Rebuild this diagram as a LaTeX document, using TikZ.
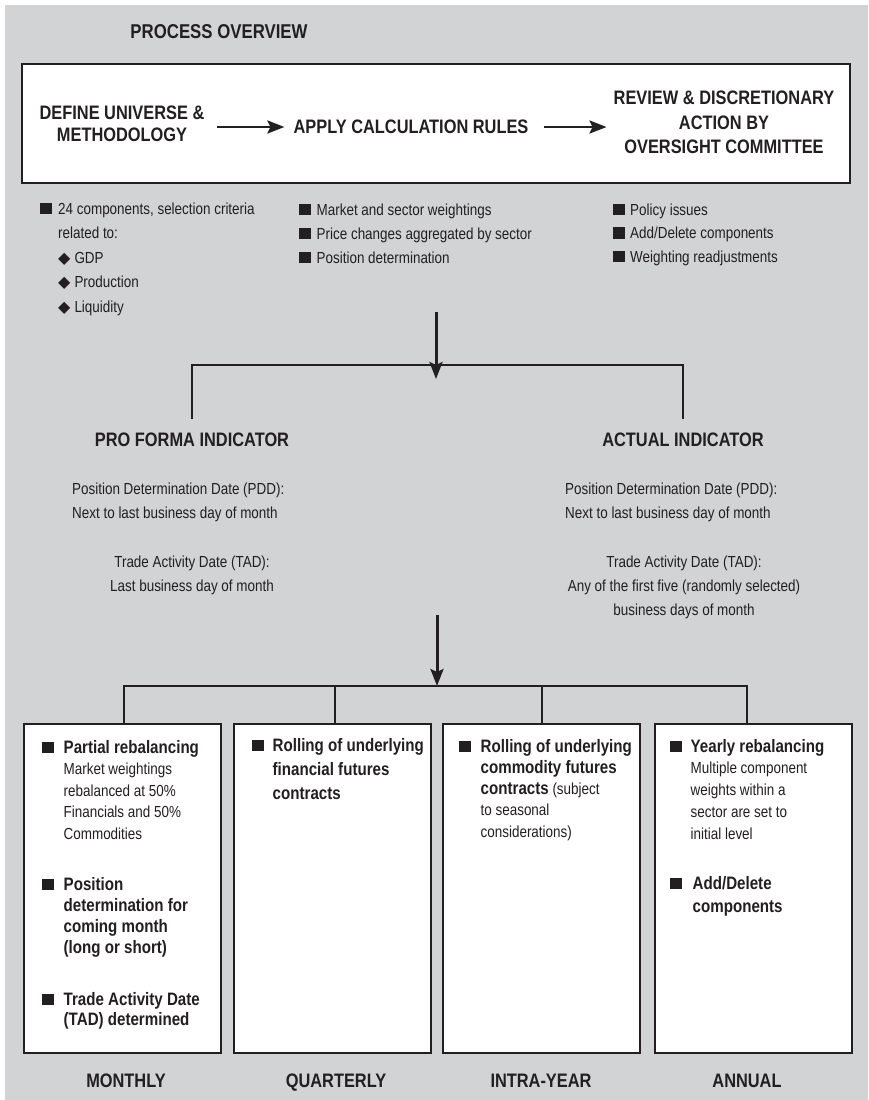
\documentclass[tikz,border=0pt]{standalone}
\usepackage{fontspec}
\setmainfont[FakeStretch=0.84]{Liberation Sans}
\newfontfamily\symfont{DejaVu Sans}
\usetikzlibrary{arrows.meta}

\definecolor{panel}{RGB}{209,211,212}
\definecolor{ink}{RGB}{35,31,32}

\newcommand{\hd}{\bfseries\fontsize{19.5}{22}\selectfont}
\newcommand{\bt}{\bfseries\fontsize{18}{21.5}\selectfont}
\newcommand{\bx}{\rule{11.5pt}{11.5pt}}
\newcommand{\dm}{{\symfont ◆}\hspace{4pt}}

\tikzset{
  head/.style={font=\hd, align=center, inner sep=0pt},
  plain/.style={font=\fontsize{16}{24.5}\selectfont, align=left, inner sep=0pt},
  list/.style={anchor=base west, inner sep=0pt},
  link/.style={line width=2pt},
  flow/.style={-{Stealth[length=17pt,width=13pt,inset=3pt]}, line width=2.5pt},
  period/.style={draw, line width=2pt, fill=white, minimum width=197pt,
    minimum height=329pt, anchor=north west, inner sep=0pt},
}

\begin{document}
\begin{tikzpicture}[x=1pt, y=-1pt, color=ink, text=ink]
  \useasboundingbox (0,0) rectangle (868,1100);
  \fill[panel] (5,5) rectangle (868,1100);

  % Overview
  \node[head, font=\bfseries\fontsize{20}{24}\selectfont] (title) at (219,32) {PROCESS OVERVIEW};
  \node[draw, line width=1.3pt, fill=white, minimum width=828pt, minimum height=119pt, inner sep=0pt] (overview) at (436,123.5) {};

  \node[head] (define) at (122,124) {DEFINE UNIVERSE \&\\METHODOLOGY};
  \node[head] (apply) at (411,127) {APPLY CALCULATION RULES};
  \node[head, font=\bfseries\fontsize{19.5}{24.5}\selectfont] (review) at (724,122.5)
    {REVIEW \& DISCRETIONARY\\ACTION BY\\OVERSIGHT COMMITTEE};

  \draw[flow, shorten <=12pt, shorten >=9pt] (define.east |- apply.west) -- (apply.west);
  \draw[flow, shorten <=15pt, shorten >=7pt] (apply.east) -- (review.west |- apply.east);

  % Bullets under the steps
  \node[list, font=\fontsize{16}{24.5}\selectfont] (rules1) at (40,214) {%
    \begin{tabular}[t]{@{}l@{\hspace{6.5pt}}l@{}}
      \bx & 24 components, selection criteria\\
          & related to:\\
          & \dm GDP\\
          & \dm Production\\
          & \dm Liquidity
    \end{tabular}};
  \node[list, font=\fontsize{16}{24}\selectfont] (rules2) at (299,215) {%
    \begin{tabular}[t]{@{}l@{\hspace{6pt}}l@{}}
      \bx & Market and sector weightings\\
      \bx & Price changes aggregated by sector\\
      \bx & Position determination
    \end{tabular}};
  \node[list, font=\fontsize{16}{23.5}\selectfont] (rules3) at (613,215) {%
    \begin{tabular}[t]{@{}l@{\hspace{5.5pt}}l@{}}
      \bx & Policy issues\\
      \bx & Add/Delete components\\
      \bx & Weighting readjustments
    \end{tabular}};

  % Indicators
  \coordinate (from1) at (436,312);
  \coordinate (split1) at (436,379);
  \draw[flow, line width=3pt] (from1) -- (split1);

  \node[head] (pf) at (192,440) {PRO FORMA INDICATOR};
  \node[head] (ai) at (683,440) {ACTUAL INDICATOR};
  \draw[link] ([yshift=14pt]pf.north) -- ([yshift=14pt]pf.north |- split1)
    -- ([yshift=14pt]ai.north |- split1) -- ([yshift=14pt]ai.north);

  \node[plain, anchor=west] (pfpdd) at (72,502.5)
    {Position Determination Date (PDD):\\Next to last business day of month};
  \node[plain, align=center, font=\fontsize{16}{24}\selectfont] (pftad) at (192,575)
    {Trade Activity Date (TAD):\\Last business day of month};
  \node[plain, anchor=west] (aipdd) at (565,502.5)
    {Position Determination Date (PDD):\\Next to last business day of month};
  \node[plain, align=center, font=\fontsize{16}{24}\selectfont] (aitad) at (684,587)
    {Trade Activity Date (TAD):\\Any of the first five (randomly selected)\\business days of month};

  % Rebalancing periods
  \coordinate (from2) at (437,615);
  \coordinate (split2) at (437,686);
  \draw[flow, line width=3pt] (from2) -- (split2);

  \node[period] (monthly) at (23,723) {};
  \node[period] (quarterly) at (233,723) {};
  \node[period] (intra) at (442,723) {};
  \node[period] (annual) at (654,723) {};

  \draw[link] ([xshift=1.5pt]monthly.north) -- ([xshift=1.5pt]monthly.north |- split2)
    -- ([xshift=-6.5pt]annual.north |- split2) -- ([xshift=-6.5pt]annual.north);
  \draw[link] ([xshift=2.5pt]quarterly.north) -- ([xshift=2.5pt]quarterly.north |- split2);
  \draw[link] (intra.north) -- (intra.north |- split2);

  \node[list, font=\fontsize{16}{21.5}\selectfont] (m1) at (42,753) {%
    \begin{tabular}[t]{@{}l@{\hspace{10pt}}l@{}}
      \bx & \bt Partial rebalancing\\
          & Market weightings\\
          & rebalanced at 50\%\\
          & Financials and 50\%\\
          & Commodities
    \end{tabular}};
  \node[list, font=\fontsize{16}{21.3}\selectfont] (m2) at (42,890) {%
    \begin{tabular}[t]{@{}l@{\hspace{10pt}}l@{}}
      \bx & \bt Position\\
          & \bt determination for\\
          & \bt coming month\\
          & \bt (long or short)
    \end{tabular}};
  \node[list, font=\fontsize{16}{20.5}\selectfont] (m3) at (42,1005) {%
    \begin{tabular}[t]{@{}l@{\hspace{10pt}}l@{}}
      \bx & \bt Trade Activity Date\\
          & \bt (TAD) determined
    \end{tabular}};

  \node[list, font=\fontsize{16}{24}\selectfont] (q1) at (252,751) {%
    \begin{tabular}[t]{@{}l@{\hspace{9pt}}l@{}}
      \bx & \bt Rolling of underlying\\
          & \bt financial futures\\
          & \bt contracts
    \end{tabular}};

  \node[list, font=\fontsize{16}{21.3}\selectfont] (i1) at (459,752) {%
    \begin{tabular}[t]{@{}l@{\hspace{10pt}}l@{}}
      \bx & \bt Rolling of underlying\\
          & \bt commodity futures\\
          & {\bt contracts} (subject\\
          & to seasonal\\
          & considerations)
    \end{tabular}};

  \node[list, font=\fontsize{16}{21.75}\selectfont] (a1) at (670,752) {%
    \begin{tabular}[t]{@{}l@{\hspace{9pt}}l@{}}
      \bx & \bt Yearly rebalancing\\
          & Multiple component\\
          & weights within a\\
          & sector are set to\\
          & initial level
    \end{tabular}};
  \node[list, font=\fontsize{16}{23}\selectfont] (a2) at (670,889) {%
    \begin{tabular}[t]{@{}l@{\hspace{11pt}}l@{}}
      \bx & \bt Add/Delete\\
          & \bt components
    \end{tabular}};

  \node[head, anchor=base] (lmonthly) at (126,1087) {MONTHLY};
  \node[head, anchor=base] (lquarterly) at (336,1087) {QUARTERLY};
  \node[head, anchor=base] (lintra) at (541,1087) {INTRA-YEAR};
  \node[head, anchor=base] (lannual) at (747,1087) {ANNUAL};
\end{tikzpicture}
\end{document}
